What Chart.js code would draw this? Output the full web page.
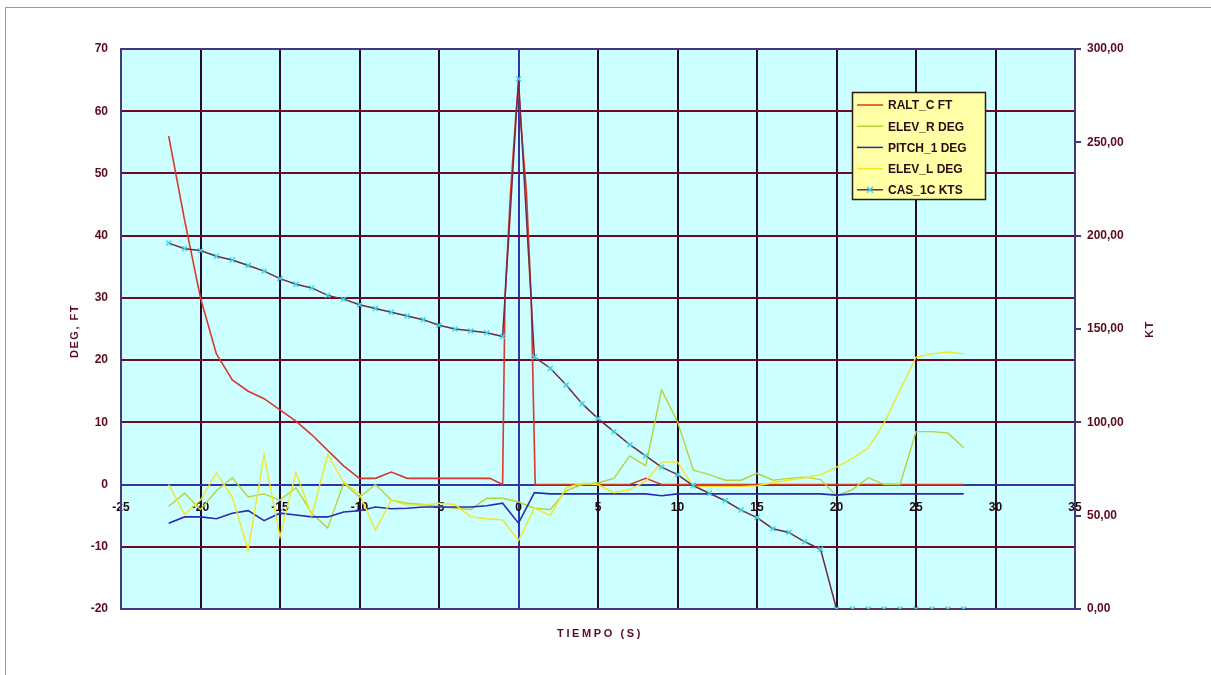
<!DOCTYPE html>
<html><head><meta charset="utf-8">
<script src="https://cdn.jsdelivr.net/npm/chart.js@4.4.0/dist/chart.umd.min.js"></script>
<style>
html,body{margin:0;padding:0;background:#fff;}
#wrap{position:relative;width:1211px;height:675px;overflow:hidden;background:#fff;}
#frame{position:absolute;left:5px;top:7px;width:1230px;height:700px;border:1px solid #9a9a9a;box-sizing:border-box;}
#c{position:absolute;left:0;top:0;}
</style></head><body>
<div id="wrap"><div id="frame"></div><canvas id="c" width="1211" height="675"></canvas></div>
<script>
// ---- data ----
const timeS = [-22,-21,-20,-19,-18,-17,-16,-15,-14,-13,-12,-11,-10,-9,-8,-7,-6,-5,-4,-3,-2,-1,0,1,2,3,4,5,6,7,8,9,10,11,12,13,14,15,16,17,18,19,20,21,22,23,24,25,26,27,28];
const elevLDeg = [0,-4.8,-2.5,1.9,-2,-10.5,4.8,-8.4,2,-5, 4.8,0.4,-1.5,-7.3,-2.5,-3.3,-3.3,-3,-3.2,-5.2, -5.5,-5.7,-9,-3.8,-5,-0.5,0.2,0,-1.3,-0.8, 0.5,3.6,3.6,-0.3,-0.3,-0.3,-0.3,-0.2,0.3,0.7, 1.1,1.6,2.8,4.2,5.9,9.9,15.2,20.5,21,21.3, 21];
const elevRDeg = [-3.5,-1.4,-4,-1,1.1,-2,-1.5,-2.5,-0.5,-4.6, -7,0.2,-2,0,-2.5,-3,-3.2,-3.5,-3.8,-4, -2.2,-2.2,-2.8,-3.8,-4,-1,0,0.3,1,4.6, 3,15.2,10.1,2.3,1.6,0.7,0.7,1.8,0.7,1, 1.2,0.8,-1.8,-0.8,1.1,0,0,8.5,8.5,8.3, 5.9];
const pitchDeg = [-6.2,-5.2,-5.2,-5.5,-4.6,-4.2,-5.8,-4.6,-4.9,-5.2, -5.2,-4.4,-4.2,-3.6,-3.9,-3.8,-3.6,-3.6,-3.6,-3.6, -3.4,-3,-6.2,-1.3,-1.5,-1.5,-1.5,-1.5,-1.5,-1.5, -1.5,-1.8,-1.5,-1.5,-1.5,-1.5,-1.5,-1.5,-1.5,-1.5, -1.5,-1.5,-1.7,-1.5,-1.5,-1.5,-1.5,-1.5,-1.5,-1.5, -1.5];
const casKts = [196,193,192,189,187,184,181,177,174,172, 168,166,163,161,159,157,155,152,150,149, 148,146,284,135,129,120,110,102,95,88, 82,76,72,66,62,58,53,49,43,41, 36,32,0,0,0,0,0,0,0,0, 0];
const raltTime = [-22,-21,-20,-19,-18,-17,-16,-15,-14,-13,-12,-11,-10,-9,-8,-7,-6,-5,-4,-3,-2,-1.8,-1,-0.85,-0.5,-0.15,0,0.15,0.5,0.8,0.95,1.05,2,3,4,5,6,7,8,9,10,12,14,16,18,20,22,24,26,28];
const raltFt = [56,42.5,30,21,16.8,15,13.8,12,10.2,8,5.5,3,1,1,2,1,1,1,1,1,1,1,0,30,47,60,64,58,47,30,12,0,0,0,0,0,0,0,1,0,0,0,0,0,0,0,0,0,0,0];
const xTicks = {min:-25, max:35, step:5};
const leftTicks = {min:-20, max:70, step:10};
const rightTicks = {min:0, max:300, step:50};
const seriesNames = ['RALT_C FT','ELEV_R DEG','PITCH_1 DEG','ELEV_L DEG','CAS_1C KTS'];
const seriesColors = ['#d8392a','#b9d23a','#2a2ab4','#f2e626','#6e2a4a'];
const casMarkerColor = '#38d6ea';
const axisTitles = {left:'DEG, FT', right:'KT', bottom:'TIEMPO (S)'};

const pts = (xs, ys) => xs.map((x, i) => ({x: x, y: ys[i]}));
const TXT = '#5a0c1c';
const FONT = 'Liberation Sans, Arial, sans-serif';

const bgPlugin = {
  id: 'bg',
  beforeDraw(chart) {
    const {ctx, chartArea: a} = chart;
    ctx.save();
    ctx.fillStyle = '#ccffff';
    ctx.fillRect(a.left, a.top, a.right - a.left, a.bottom - a.top);
    ctx.restore();
  },
  beforeDatasetsDraw(chart) {
    const {ctx, chartArea: a} = chart;
    ctx.save();
    ctx.strokeStyle = '#42387e';
    ctx.lineWidth = 2;
    ctx.strokeRect(a.left, a.top, a.right - a.left, a.bottom - a.top);
    ctx.restore();
  },
  afterDraw(chart) {
    const {ctx, chartArea: a} = chart;
    ctx.save();
    // axis titles
    ctx.fillStyle = TXT;
    ctx.textAlign = 'center';
    ctx.textBaseline = 'middle';
    ctx.font = 'bold 11px ' + FONT;
    try { ctx.letterSpacing = '2.6px'; } catch (e) {}
    ctx.fillText(axisTitles.bottom, (a.left + a.right) / 2 + 2, 634);
    try { ctx.letterSpacing = '1.5px'; } catch (e) {}
    ctx.save();
    ctx.translate(75, (a.top + a.bottom) / 2 + 2);
    ctx.rotate(-Math.PI / 2);
    ctx.fillText(axisTitles.left, 0, 0);
    ctx.restore();
    ctx.save();
    ctx.translate(1150, (a.top + a.bottom) / 2);
    ctx.rotate(-Math.PI / 2);
    ctx.fillText(axisTitles.right, 0, 0);
    ctx.restore();
    try { ctx.letterSpacing = '0px'; } catch (e) {}
    // legend
    const bx = 852.5, by = 92.5, bw = 133, bh = 107;
    ctx.fillStyle = '#ffffa6';
    ctx.fillRect(bx, by, bw, bh);
    ctx.strokeStyle = '#2a1a1a';
    ctx.lineWidth = 1.5;
    ctx.strokeRect(bx, by, bw, bh);
    ctx.font = 'bold 12px ' + FONT;
    ctx.textAlign = 'left';
    seriesNames.forEach((name, i) => {
      const y = 105 + i * 21.2;
      ctx.strokeStyle = seriesColors[i];
      ctx.lineWidth = 1.5;
      ctx.beginPath();
      ctx.moveTo(857, y);
      ctx.lineTo(883, y);
      ctx.stroke();
      if (i === 4) {
        ctx.strokeStyle = casMarkerColor;
        ctx.beginPath();
        ctx.moveTo(867, y - 3); ctx.lineTo(873, y + 3);
        ctx.moveTo(873, y - 3); ctx.lineTo(867, y + 3);
        ctx.stroke();
      }
      ctx.fillStyle = '#2e0a12';
      ctx.fillText(name, 888, y + 1);
    });
    ctx.restore();
  }
};

new Chart(document.getElementById('c'), {
  type: 'line',
  data: {
    datasets: [
      {label: seriesNames[0], data: pts(raltTime, raltFt), borderColor: seriesColors[0], borderWidth: 1.6, pointRadius: 0, yAxisID: 'y', order: 5},
      {label: seriesNames[1], data: pts(timeS, elevRDeg), borderColor: seriesColors[1], borderWidth: 1.4, pointRadius: 0, yAxisID: 'y', order: 4},
      {label: seriesNames[2], data: pts(timeS, pitchDeg), borderColor: seriesColors[2], borderWidth: 1.6, pointRadius: 0, yAxisID: 'y', order: 3},
      {label: seriesNames[3], data: pts(timeS, elevLDeg), borderColor: seriesColors[3], borderWidth: 1.4, pointRadius: 0, yAxisID: 'y', order: 2},
      {label: seriesNames[4], data: pts(timeS, casKts), borderColor: seriesColors[4], borderWidth: 1.5, pointRadius: 3.5, pointStyle: 'crossRot', pointBorderColor: casMarkerColor, pointBorderWidth: 1.4, yAxisID: 'y2', order: 1}
    ]
  },
  options: {
    responsive: false,
    animation: false,
    devicePixelRatio: 1,
    events: [],
    layout: {padding: {top: 49, bottom: 66, left: 0, right: 0}},
    plugins: {legend: {display: false}, tooltip: {enabled: false}},
    elements: {line: {tension: 0}},
    scales: {
      x: {
        type: 'linear', position: {y: 0}, min: xTicks.min, max: xTicks.max,
        ticks: {stepSize: xTicks.step, color: '#1e0a0a', font: {family: FONT, size: 12, weight: 'bold'}, padding: 16, maxRotation: 0, autoSkip: false},
        grid: {color: c => (c.tick && c.tick.value === 0) ? '#3434a4' : '#2a0a2c', lineWidth: 2, drawTicks: false},
        border: {color: '#3434a4', width: 2}
      },
      y: {
        type: 'linear', position: 'left', min: leftTicks.min, max: leftTicks.max,
        ticks: {stepSize: leftTicks.step, color: TXT, font: {family: FONT, size: 12, weight: 'bold'}, padding: 13},
        grid: {color: c => (c.tick && c.tick.value === 0) ? '#3434a4' : '#6c0c22', lineWidth: 2, drawTicks: false},
        border: {color: '#42387e', width: 2},
        afterFit: s => { s.width = 121; }
      },
      y2: {
        type: 'linear', position: 'right', min: rightTicks.min, max: rightTicks.max,
        ticks: {stepSize: rightTicks.step, color: TXT, font: {family: FONT, size: 12, weight: 'bold'}, padding: 6,
          callback: v => v.toFixed(2).replace('.', ',')},
        grid: {drawOnChartArea: false, color: '#42387e', lineWidth: 2, tickLength: 6},
        border: {color: '#42387e', width: 2},
        afterFit: s => { s.width = 136; }
      }
    }
  },
  plugins: [bgPlugin]
});
</script>
</body></html>
